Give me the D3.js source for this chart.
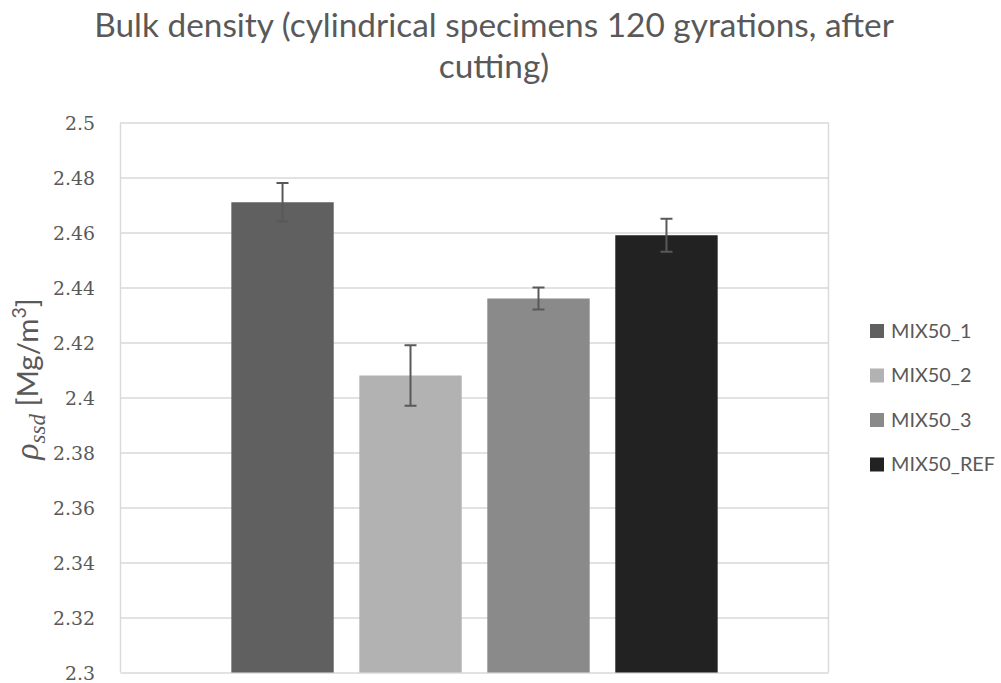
<!DOCTYPE html>
<html>
<head>
<meta charset="utf-8">
<script src="https://cdn.jsdelivr.net/npm/d3@7"></script>
<style>
  html, body { margin: 0; padding: 0; background: #fff; }
  svg { display: block; }
  .serif { font-family: 'DejaVu Serif', 'Liberation Serif', serif; fill: #595959; }
  .sans { font-family: Lato, 'Open Sans', sans-serif; fill: #595959; }
</style>
</head>
<body>
<svg id="chart" width="1001" height="683"></svg>
<script>
// Bulk density per mix (Mg/m3) with standard deviation
const seriesNames = ["MIX50_1", "MIX50_2", "MIX50_3", "MIX50_REF"];
const densities = [2.471, 2.408, 2.436, 2.459];
const deviations = [0.007, 0.011, 0.004, 0.006];
const seriesColors = ["#606060", "#b2b2b2", "#8a8a8a", "#222222"];

const yTicks = [2.30, 2.32, 2.34, 2.36, 2.38, 2.40, 2.42, 2.44, 2.46, 2.48, 2.50];
const yTickLabels = ["2.3", "2.32", "2.34", "2.36", "2.38", "2.4", "2.42", "2.44", "2.46", "2.48", "2.5"];

const titleLines = ["Bulk density (cylindrical specimens 120 gyrations, after", "cutting)"];

const W = 1001, H = 683;
const plot = { left: 120.5, right: 828.5, top: 122.5, bottom: 672.5 };
const gridColor = "#d9d9d9";

const svg = d3.select("#chart");
svg.append("rect").attr("width", W).attr("height", H).attr("fill", "#fff");

// pick a font size so that a sample string spans the wanted width
function fitSize(sample, cls, width) {
  const t = svg.append("text").attr("class", cls).style("font-size", "100px").text(sample);
  const w = t.node().getComputedTextLength();
  t.remove();
  return 100 * width / w;
}
const titleSize = fitSize(titleLines[0], "sans", 800);
const legendSize = fitSize("MIX50_REF", "sans", 104);
const tickSize = fitSize("2.44", "serif", 42);

const y = d3.scaleLinear().domain([2.3, 2.5]).range([plot.bottom, plot.top]);
const x = d3.scaleBand()
  .domain(seriesNames)
  .range([plot.left, plot.right])
  .paddingInner(0.2)
  .paddingOuter(0.866);

// gridlines
const grid = svg.append("g")
  .attr("transform", `translate(${plot.left},0)`)
  .call(d3.axisLeft(y).tickValues(yTicks).tickSize(-(plot.right - plot.left)).tickFormat(""));
grid.select(".domain").remove();
grid.selectAll(".tick line").attr("stroke", gridColor).attr("stroke-width", 1.4);

// plot frame (left/right edges)
[plot.left, plot.right].forEach(px => {
  svg.append("line").attr("x1", px).attr("x2", px)
    .attr("y1", plot.top).attr("y2", plot.bottom)
    .attr("stroke", gridColor).attr("stroke-width", 1.4);
});

// y tick labels
const yAxis = svg.append("g")
  .attr("transform", "translate(95,0)")
  .call(d3.axisLeft(y).tickValues(yTicks).tickSize(0).tickPadding(0)
    .tickFormat((d, i) => yTickLabels[i]));
yAxis.attr("font-family", null).attr("font-size", null);
yAxis.select(".domain").remove();
yAxis.selectAll("text")
  .attr("class", "serif")
  .attr("fill", null)
  .style("font-size", tickSize + "px")
  .attr("dy", "0.36em");

// bars
const data = seriesNames.map((name, i) => ({ name, value: densities[i], sd: deviations[i], color: seriesColors[i] }));

svg.append("g").selectAll("rect")
  .data(data)
  .join("rect")
  .attr("x", d => x(d.name))
  .attr("width", x.bandwidth())
  .attr("y", d => y(d.value))
  .attr("height", d => y(2.3) - y(d.value))
  .attr("fill", d => d.color);

// error bars
const capHalf = 6;
const eb = svg.append("g").attr("stroke", "#595959").attr("stroke-width", 2).attr("fill", "none");
data.forEach(d => {
  const cx = x(d.name) + x.bandwidth() / 2;
  eb.append("line").attr("x1", cx).attr("x2", cx).attr("y1", y(d.value + d.sd)).attr("y2", y(d.value - d.sd));
  eb.append("line").attr("x1", cx - capHalf).attr("x2", cx + capHalf).attr("y1", y(d.value + d.sd)).attr("y2", y(d.value + d.sd));
  eb.append("line").attr("x1", cx - capHalf).attr("x2", cx + capHalf).attr("y1", y(d.value - d.sd)).attr("y2", y(d.value - d.sd));
});

// title
const title = svg.append("text")
  .attr("class", "sans")
  .attr("text-anchor", "middle")
  .style("font-size", titleSize + "px");
titleLines.forEach((line, i) => {
  title.append("tspan").attr("x", 494).attr("y", 37 + i * 41).text(line);
});

// y axis title: rho_ssd [Mg/m^3]
const yLabel = svg.append("text")
  .attr("class", "sans")
  .attr("transform", "translate(38,379) rotate(-90)")
  .attr("text-anchor", "middle")
  .style("font-size", "29.5px");
yLabel.append("tspan")
  .style("font-family", "'Liberation Serif', serif").style("font-style", "italic").style("font-size", "34px")
  .text("ρ");
yLabel.append("tspan")
  .style("font-family", "'Liberation Serif', serif").style("font-style", "italic").style("font-size", "23px")
  .attr("dy", 7).text("ssd");
yLabel.append("tspan").attr("dy", -7).text(" [Mg/m");
yLabel.append("tspan").style("font-size", "19.5px").attr("dy", -12).text("3");
yLabel.append("tspan").attr("dy", 12).text("]");

// legend
const legend = svg.append("g");
data.forEach((d, i) => {
  const cy = 331 + i * 44.5;
  legend.append("rect").attr("x", 870).attr("y", cy - 7).attr("width", 14).attr("height", 14).attr("fill", d.color);
  legend.append("text")
    .attr("class", "sans")
    .attr("x", 891).attr("y", cy).attr("dy", "0.35em")
    .style("font-size", legendSize + "px")
    .text(d.name);
});
</script>
</body>
</html>
